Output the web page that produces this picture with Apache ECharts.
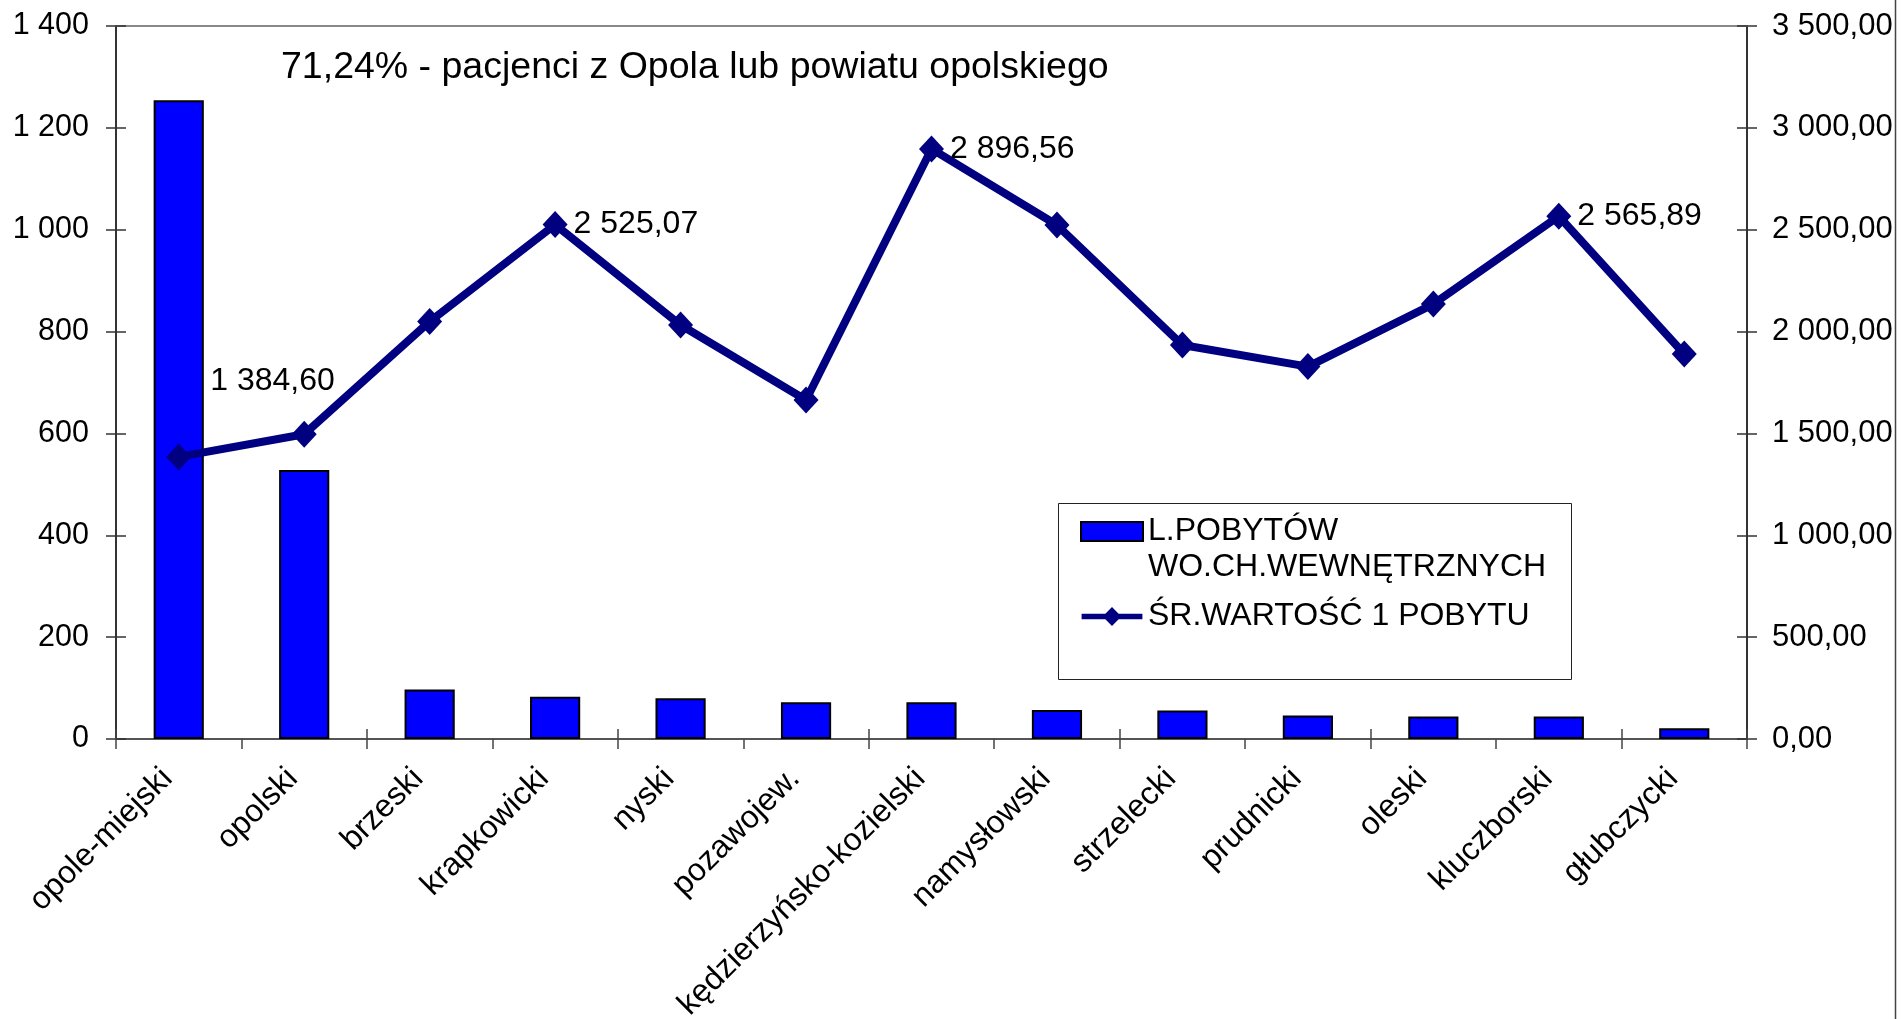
<!DOCTYPE html>
<html><head><meta charset="utf-8">
<script src="https://cdn.jsdelivr.net/npm/echarts@6/dist/echarts.min.js"></script>
<style>html,body{margin:0;padding:0;background:#fff}#c{width:1901px;height:1019px}</style>
</head><body><div id="c"></div>
<script>
// ---- data ----
const categories = ['opole-miejski','opolski','brzeski','krapkowicki','nyski','pozawojew.','kędzierzyńsko-kozielski','namysłowski','strzelecki','prudnicki','oleski','kluczborski','głubczycki'];
const stays = [1254, 528, 97, 83, 80, 72, 72, 57, 56, 46, 44, 44, 21];
const avgValue = [1384.60, 1496, 2049, 2525.07, 2032, 1664, 2896.56, 2523, 1934, 1828, 2135, 2565.89, 1890];
const labeledPoints = [0, 3, 6, 11];
const leftAxisTicks = [0, 1400, 200];
const rightAxisTicks = [0, 3500, 500];
const barName = 'L.POBYTÓW\nWO.CH.WEWNĘTRZNYCH';
const lineName = 'ŚR.WARTOŚĆ 1 POBYTU';
const titleText = '71,24% - pacjenci z Opola lub powiatu opolskiego';

// ---- helpers ----
const FONT = "'Liberation Sans', Arial, sans-serif";
function fmt(v, dec) {
  const s = Number(v).toFixed(dec);
  const parts = s.split('.');
  const intPart = parts[0].replace(/\B(?=(\d{3})+(?!\d))/g, ' ');
  return dec > 0 ? intPart + ',' + parts[1] : intPart;
}

const chart = echarts.init(document.getElementById('c'), null, {renderer: 'canvas'});

const lineData = avgValue.map((v, i) => {
  if (labeledPoints.indexOf(i) < 0) return v;
  const lbl = { show: true };
  if (i === 0) lbl.offset = [13, -76];
  return { value: v, label: lbl };
});

const catAxisBase = { type: 'category', data: categories, gridIndex: 0 };
const lineIconPath = 'path://M0,7 L25,7 L32,0 L39,7 L64,7 L64,13 L39,13 L32,20 L25,13 L0,13 Z';

const option = {
  animation: false,
  backgroundColor: '#ffffff',
  textStyle: { fontFamily: FONT },
  title: {
    text: titleText, left: 281, top: 49, padding: 0,
    textStyle: { fontSize: 37.5, fontWeight: 'normal', color: '#000', fontFamily: FONT }
  },
  grid: { left: 116, right: 154, top: 26, bottom: 280, containLabel: false, outerBoundsMode: 'none' },
  legend: {
    orient: 'vertical', left: 1080, top: 477.5, padding: 0,
    itemWidth: 62, itemHeight: 19, itemGap: 13, selectedMode: false,
    textStyle: { fontSize: 32, color: '#000', fontFamily: FONT, lineHeight: 36 },
    formatter: name => (name === barName ? ' \n' + name : name),
    data: [
      { name: barName, icon: 'rect' },
      { name: lineName, icon: lineIconPath, itemStyle: { color: '#000080', borderWidth: 0 } }
    ]
  },
  xAxis: [
    Object.assign({}, catAxisBase, {
      position: 'bottom',
      axisLine: { show: true, onZero: false, lineStyle: { color: '#555', width: 2 } },
      axisTick: { show: true, inside: false, length: 10, alignWithLabel: false, lineStyle: { color: '#444', width: 1.5 } },
      axisLabel: { interval: 0, rotate: 45, margin: 46, fontSize: 32, color: '#000', fontFamily: FONT, verticalAlign: 'bottom' },
      splitLine: { show: false }
    }),
    Object.assign({}, catAxisBase, {
      position: 'bottom',
      axisLine: { show: false, onZero: false },
      axisTick: { show: true, inside: true, length: 10, alignWithLabel: false, lineStyle: { color: '#444', width: 1.5 } },
      axisLabel: { show: false },
      splitLine: { show: false }
    }),
    Object.assign({}, catAxisBase, {
      position: 'top',
      axisLine: { show: true, onZero: false, lineStyle: { color: '#888', width: 2 } },
      axisTick: { show: false },
      axisLabel: { show: false },
      splitLine: { show: false }
    })
  ],
  yAxis: [
    {
      type: 'value', position: 'left', min: leftAxisTicks[0], max: leftAxisTicks[1], interval: leftAxisTicks[2],
      axisLine: { show: true, onZero: false, lineStyle: { color: '#333', width: 2 } },
      axisTick: { show: true, inside: false, length: 10, lineStyle: { color: '#333', width: 1.5 } },
      axisLabel: { margin: 27, fontSize: 30.5, color: '#000', fontFamily: FONT, formatter: v => fmt(v, 0) },
      splitLine: { show: false }
    },
    {
      type: 'value', position: 'right', min: rightAxisTicks[0], max: rightAxisTicks[1], interval: rightAxisTicks[2],
      axisLine: { show: true, onZero: false, lineStyle: { color: '#333', width: 2 } },
      axisTick: { show: true, inside: false, length: 10, lineStyle: { color: '#333', width: 1.5 } },
      axisLabel: { margin: 25, fontSize: 31, color: '#000', fontFamily: FONT, formatter: v => fmt(v, 2) },
      splitLine: { show: false }
    },
    {
      type: 'value', position: 'left', min: leftAxisTicks[0], max: leftAxisTicks[1], interval: leftAxisTicks[2],
      axisLine: { show: false, onZero: false },
      axisTick: { show: true, inside: true, length: 10, lineStyle: { color: '#333', width: 1.5 } },
      axisLabel: { show: false }, splitLine: { show: false }
    },
    {
      type: 'value', position: 'right', min: rightAxisTicks[0], max: rightAxisTicks[1], interval: rightAxisTicks[2],
      axisLine: { show: false, onZero: false },
      axisTick: { show: true, inside: true, length: 10, lineStyle: { color: '#333', width: 1.5 } },
      axisLabel: { show: false }, splitLine: { show: false }
    }
  ],
  series: [
    {
      name: barName, type: 'bar', xAxisIndex: 0, yAxisIndex: 0,
      data: stays, barWidth: '40%',
      itemStyle: { color: '#0000ff', borderColor: '#000', borderWidth: 2 },
      z: 2
    },
    {
      name: lineName, type: 'line', xAxisIndex: 0, yAxisIndex: 1,
      data: lineData,
      symbol: 'diamond', symbolSize: [25, 27],
      lineStyle: { color: '#000080', width: 8 },
      itemStyle: { color: '#000080' },
      label: {
        show: false, position: 'right', distance: 6,
        fontSize: 32, color: '#000', fontFamily: FONT,
        formatter: p => fmt(p.value, 2)
      },
      z: 3
    }
  ],
  graphic: [
    { type: 'rect', shape: { x: 1058.5, y: 503.5, width: 513, height: 176 }, style: { fill: 'none', stroke: '#222', lineWidth: 1 }, z: 1 },
    { type: 'line', shape: { x1: 1895.5, y1: 0, x2: 1895.5, y2: 1019 }, style: { stroke: '#444', lineWidth: 1.5 }, z: 1 }
  ]
};
chart.setOption(option);
</script>
</body></html>
